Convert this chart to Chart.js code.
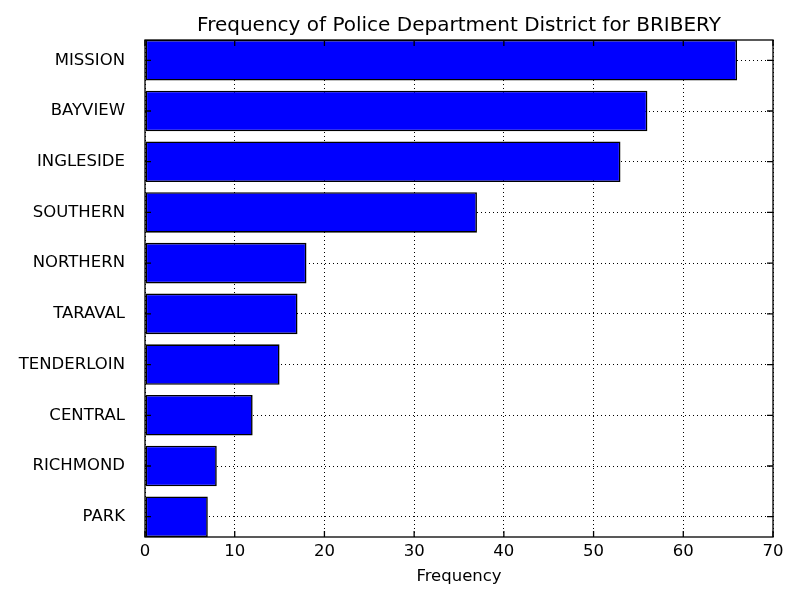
<!DOCTYPE html>
<html>
<head>
<meta charset="utf-8">
<script src="https://cdn.jsdelivr.net/npm/chart.js@4.4.0/dist/chart.umd.min.js"></script>
<style>
  html, body { margin: 0; padding: 0; background: #fff; }
  #wrap { width: 800px; height: 600px; }
</style>
</head>
<body>
<div id="wrap"><canvas id="c" width="800" height="600"></canvas></div>
<script>
const districts = ['MISSION', 'BAYVIEW', 'INGLESIDE', 'SOUTHERN', 'NORTHERN', 'TARAVAL', 'TENDERLOIN', 'CENTRAL', 'RICHMOND', 'PARK'];
const counts = [66, 56, 53, 37, 18, 17, 15, 12, 8, 7];
const xTickValues = [0, 10, 20, 30, 40, 50, 60, 70];
const titleText = 'Frequency of Police Department District for BRIBERY';
const xLabel = 'Frequency';

Chart.defaults.font.family = 'DejaVu Sans';
Chart.defaults.font.size = 16.5;
Chart.defaults.color = '#000';

const framePlugin = {
  id: 'frame',
  afterDraw(chart) {
    const { ctx, chartArea: a, scales } = chart;
    ctx.save();
    ctx.strokeStyle = '#000';
    ctx.lineWidth = 1.3;
    const tl = 6;
    ctx.beginPath();
    scales.x.ticks.forEach(t => {
      const px = scales.x.getPixelForValue(t.value);
      ctx.moveTo(px, a.bottom); ctx.lineTo(px, a.bottom - tl);
      ctx.moveTo(px, a.top); ctx.lineTo(px, a.top + tl);
    });
    scales.y.ticks.forEach(t => {
      const py = scales.y.getPixelForValue(t.value);
      ctx.moveTo(a.left, py); ctx.lineTo(a.left + tl, py);
      ctx.moveTo(a.right, py); ctx.lineTo(a.right - tl, py);
    });
    ctx.stroke();
    ctx.strokeRect(a.left, a.top, a.right - a.left, a.bottom - a.top);
    ctx.restore();
  }
};

new Chart(document.getElementById('c'), {
  type: 'bar',
  data: {
    datasets: [{
      data: districts.map((d, i) => ({ x: counts[i], y: i })),
      backgroundColor: '#0000ff',
      borderColor: '#000',
      borderWidth: 1.6,
      borderSkipped: false,
      barPercentage: 0.8,
      categoryPercentage: 1.0
    }]
  },
  options: {
    indexAxis: 'y',
    responsive: false,
    animation: false,
    layout: { padding: { left: 0, right: 27, top: 0, bottom: 0 } },
    plugins: {
      legend: { display: false },
      tooltip: { enabled: false },
      title: {
        display: true,
        fullSize: false,
        text: titleText,
        color: '#000',
        font: { size: 20, weight: 'normal' },
        padding: { top: 14, bottom: 2 }
      }
    },
    scales: {
      x: {
        type: 'linear',
        min: 0,
        max: 70,
        z: 1,
        afterBuildTicks: s => { s.ticks = xTickValues.map(v => ({ value: v })); },
        afterFit: s => { s.height = 63; },
        ticks: { padding: 5, maxRotation: 0, autoSkip: false },
        grid: { color: '#000', lineWidth: 1, drawTicks: false },
        border: { display: false, dash: [1, 3] },
        title: { display: true, text: xLabel, padding: { top: 0, bottom: 13 } }
      },
      y: {
        type: 'linear',
        min: -0.4,
        max: 9.4,
        reverse: true,
        offset: false,
        z: 1,
        afterBuildTicks: s => { s.ticks = districts.map((d, i) => ({ value: i })); },
        afterFit: s => { s.width = 145; },
        ticks: { padding: 20, autoSkip: false, callback: v => districts[v] },
        grid: { color: '#000', lineWidth: 1, drawTicks: false, offset: false },
        border: { display: false, dash: [1, 3] }
      }
    }
  },
  plugins: [framePlugin]
});
</script>
</body>
</html>
